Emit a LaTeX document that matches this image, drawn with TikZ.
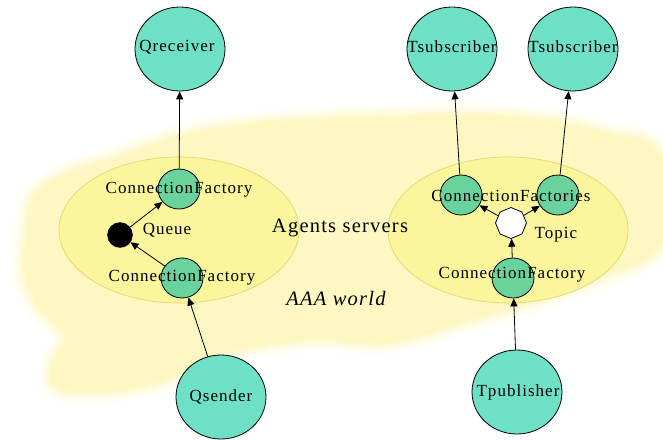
\documentclass[tikz,border=0pt]{standalone}
\usepackage{fontspec}
\setmainfont{Liberation Serif}[LetterSpace=6]
\usetikzlibrary{arrows.meta,shapes.geometric}

\definecolor{cloudc}{HTML}{FFF7C2}
\definecolor{srvfill}{HTML}{FBF59C}
\definecolor{srvedge}{HTML}{E0D67A}
\definecolor{clientc}{HTML}{6DE0C6}
\definecolor{factc}{HTML}{6AD29C}

% outline of the soft "AAA world" cloud
\def\worldcloud{plot[smooth cycle, tension=0.65] coordinates {
  (26,236) (34,196) (70,172) (118,157) (176,137) (242,125) (320,119)
  (400,116) (480,115) (548,120) (606,133) (656,148) (670,200) (658,250)
  (598,278) (528,303) (458,324) (390,342) (312,340) (250,348) (200,362)
  (160,382) (98,392) (56,387) (52,364) (64,336) (36,304) (24,270)}}

\begin{document}
\begin{tikzpicture}[x=1pt,y=-1pt,
  client/.style={ellipse, draw=black, line width=0.8pt, fill=clientc,
    minimum width=90pt, minimum height=84pt, inner sep=0pt},
  factory/.style={ellipse, draw=black, line width=0.8pt, fill=factc,
    minimum width=42pt, minimum height=40pt, inner sep=0pt},
  server/.style={ellipse, draw=srvedge, line width=0.7pt, fill=srvfill,
    minimum width=240pt, minimum height=146pt, inner sep=0pt},
  lbl/.style={font=\fontsize{17}{20}\selectfont, inner sep=0pt},
  biglbl/.style={font=\fontsize{20.5}{24}\selectfont, inner sep=0pt},
  flow/.style={-{Triangle[length=8pt,width=7pt]}, line width=0.8pt}
]
\useasboundingbox (0,0) rectangle (663,439);

% soft-edged cloud: wide faint strokes under a solid fill
\foreach \w/\o in {26/0.12, 19/0.18, 12/0.28, 6/0.45}
  \draw[cloudc, line width=\w pt, opacity=\o, line join=round] \worldcloud;
\fill[cloudc] \worldcloud;

% agent servers
\node[server] (srvL) at (179,230) {};
\node[server] (srvR) at (508,230) {};

% clients
\node[client] (qr)  at (180,49)  {};
\node[client] (ts1) at (452,49)  {};
\node[client] (ts2) at (573,49)  {};
\node[client] (qs)  at (221,397) {};
\node[client] (tp)  at (517,392) {};

% connection factories, queue and topic
\node[factory] (cfq1) at (179,189) {};
\node[factory] (cfq2) at (182,278) {};
\node[circle, fill=black, draw=black, minimum size=25pt, inner sep=0pt] (queue) at (120,235) {};
\node[factory] (cft1) at (461,195) {};
\node[factory] (cft2) at (558,195) {};
\node[regular polygon, regular polygon sides=8, regular polygon rotate=22.5,
  draw=black, line width=0.8pt, fill=white, minimum size=31pt, inner sep=0pt]
  (topic) at (511,223) {};
\node[factory] (cft3) at (513,278) {};

% message flow
\draw[flow] (cfq1) -- (qr);
\draw[flow] (queue) -- (cfq1);
\draw[flow] (cfq2) -- (queue);
\draw[flow] (qs) -- (cfq2);
\draw[flow] (cft1) -- (ts1);
\draw[flow] (cft2) -- (ts2);
\draw[flow] (topic) -- (cft1);
\draw[flow] (topic) -- (cft2);
\draw[flow] (cft3) -- (topic);
\draw[flow] (tp) -- (cft3);

% labels
\node[lbl] (qr-t)  at (177,47)  {Qreceiver};
\node[lbl] (ts1-t) at (452,47)  {Tsubscriber};
\node[lbl] (ts2-t) at (573,47)  {Tsubscriber};
\node[lbl] (qs-t)  at (221,397) {Qsender};
\node[lbl] (tp-t)  at (518,392) {Tpublisher};
\node[lbl] (cfq1-t) at (179,190) {ConnectionFactory};
\node[lbl] (cfq2-t) at (182,278) {ConnectionFactory};
\node[lbl] (queue-t) at (167,230) {Queue};
\node[lbl] (cft-t)  at (511,196) {ConnectionFactories};
\node[lbl] (topic-t) at (556,235) {Topic};
\node[lbl] (cft3-t) at (512,275) {ConnectionFactory};
\node[biglbl] (agents) at (340,228) {Agents servers};
\node[biglbl, font=\fontsize{20.5}{24}\selectfont\itshape] (world) at (336,298) {AAA world};
\end{tikzpicture}
\end{document}
